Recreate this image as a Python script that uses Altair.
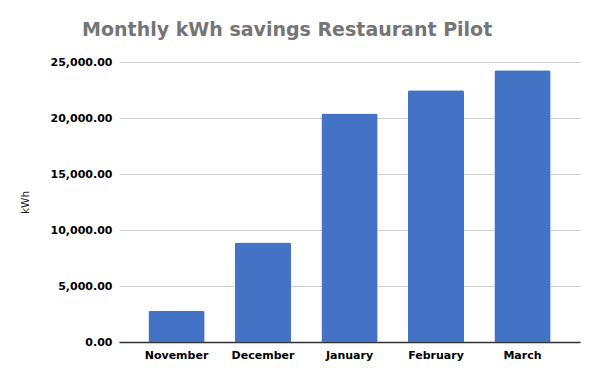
import altair as alt
import pandas as pd

months = ["November", "December", "January", "February", "March"]
savings = [2800, 8880, 20400, 22470, 24260]
y_ticks = [0, 5000, 10000, 15000, 20000, 25000]

df = pd.DataFrame({"month": months, "kwh": savings})

chart = alt.Chart(df).mark_bar(
    color="#4472c4", cornerRadiusTopLeft=2, cornerRadiusTopRight=2
).encode(
    x=alt.X("month:N", sort=months, title=None,
            scale=alt.Scale(paddingInner=0.35, paddingOuter=0.34),
            axis=alt.Axis(labelAngle=0, labelFont="DejaVu Sans", labelFontWeight="bold",
                          labelFontSize=11, labelColor="#000000", labelPadding=7,
                          ticks=False, domain=True, domainColor="#333333", domainWidth=1.3,
                          grid=False)),
    y=alt.Y("kwh:Q", title="kWh",
            scale=alt.Scale(domain=[0, 25000], nice=False),
            axis=alt.Axis(values=y_ticks, format=",.2f", labelFont="DejaVu Sans",
                          labelFontWeight="bold", labelFontSize=11, labelColor="#000000",
                          labelPadding=7, ticks=False, domain=False,
                          gridColor="#cccccc", gridWidth=1,
                          titleFont="DejaVu Sans", titleFontSize=10.5,
                          titleFontWeight="normal", titleColor="#222222",
                          titlePadding=20)),
).properties(
    width=461, height=280,
    title=alt.TitleParams("Monthly kWh savings Restaurant Pilot", anchor="start",
                          dx=62, font="DejaVu Sans", fontSize=19, fontWeight="bold",
                          color="#757575", offset=16),
    autosize=alt.AutoSizeParams(type="none"),
    padding={"left": 111, "top": 54, "right": 12, "bottom": 30},
).configure_view(stroke=None)

chart.save("out.html", embed_options={"renderer": "svg", "actions": False})
